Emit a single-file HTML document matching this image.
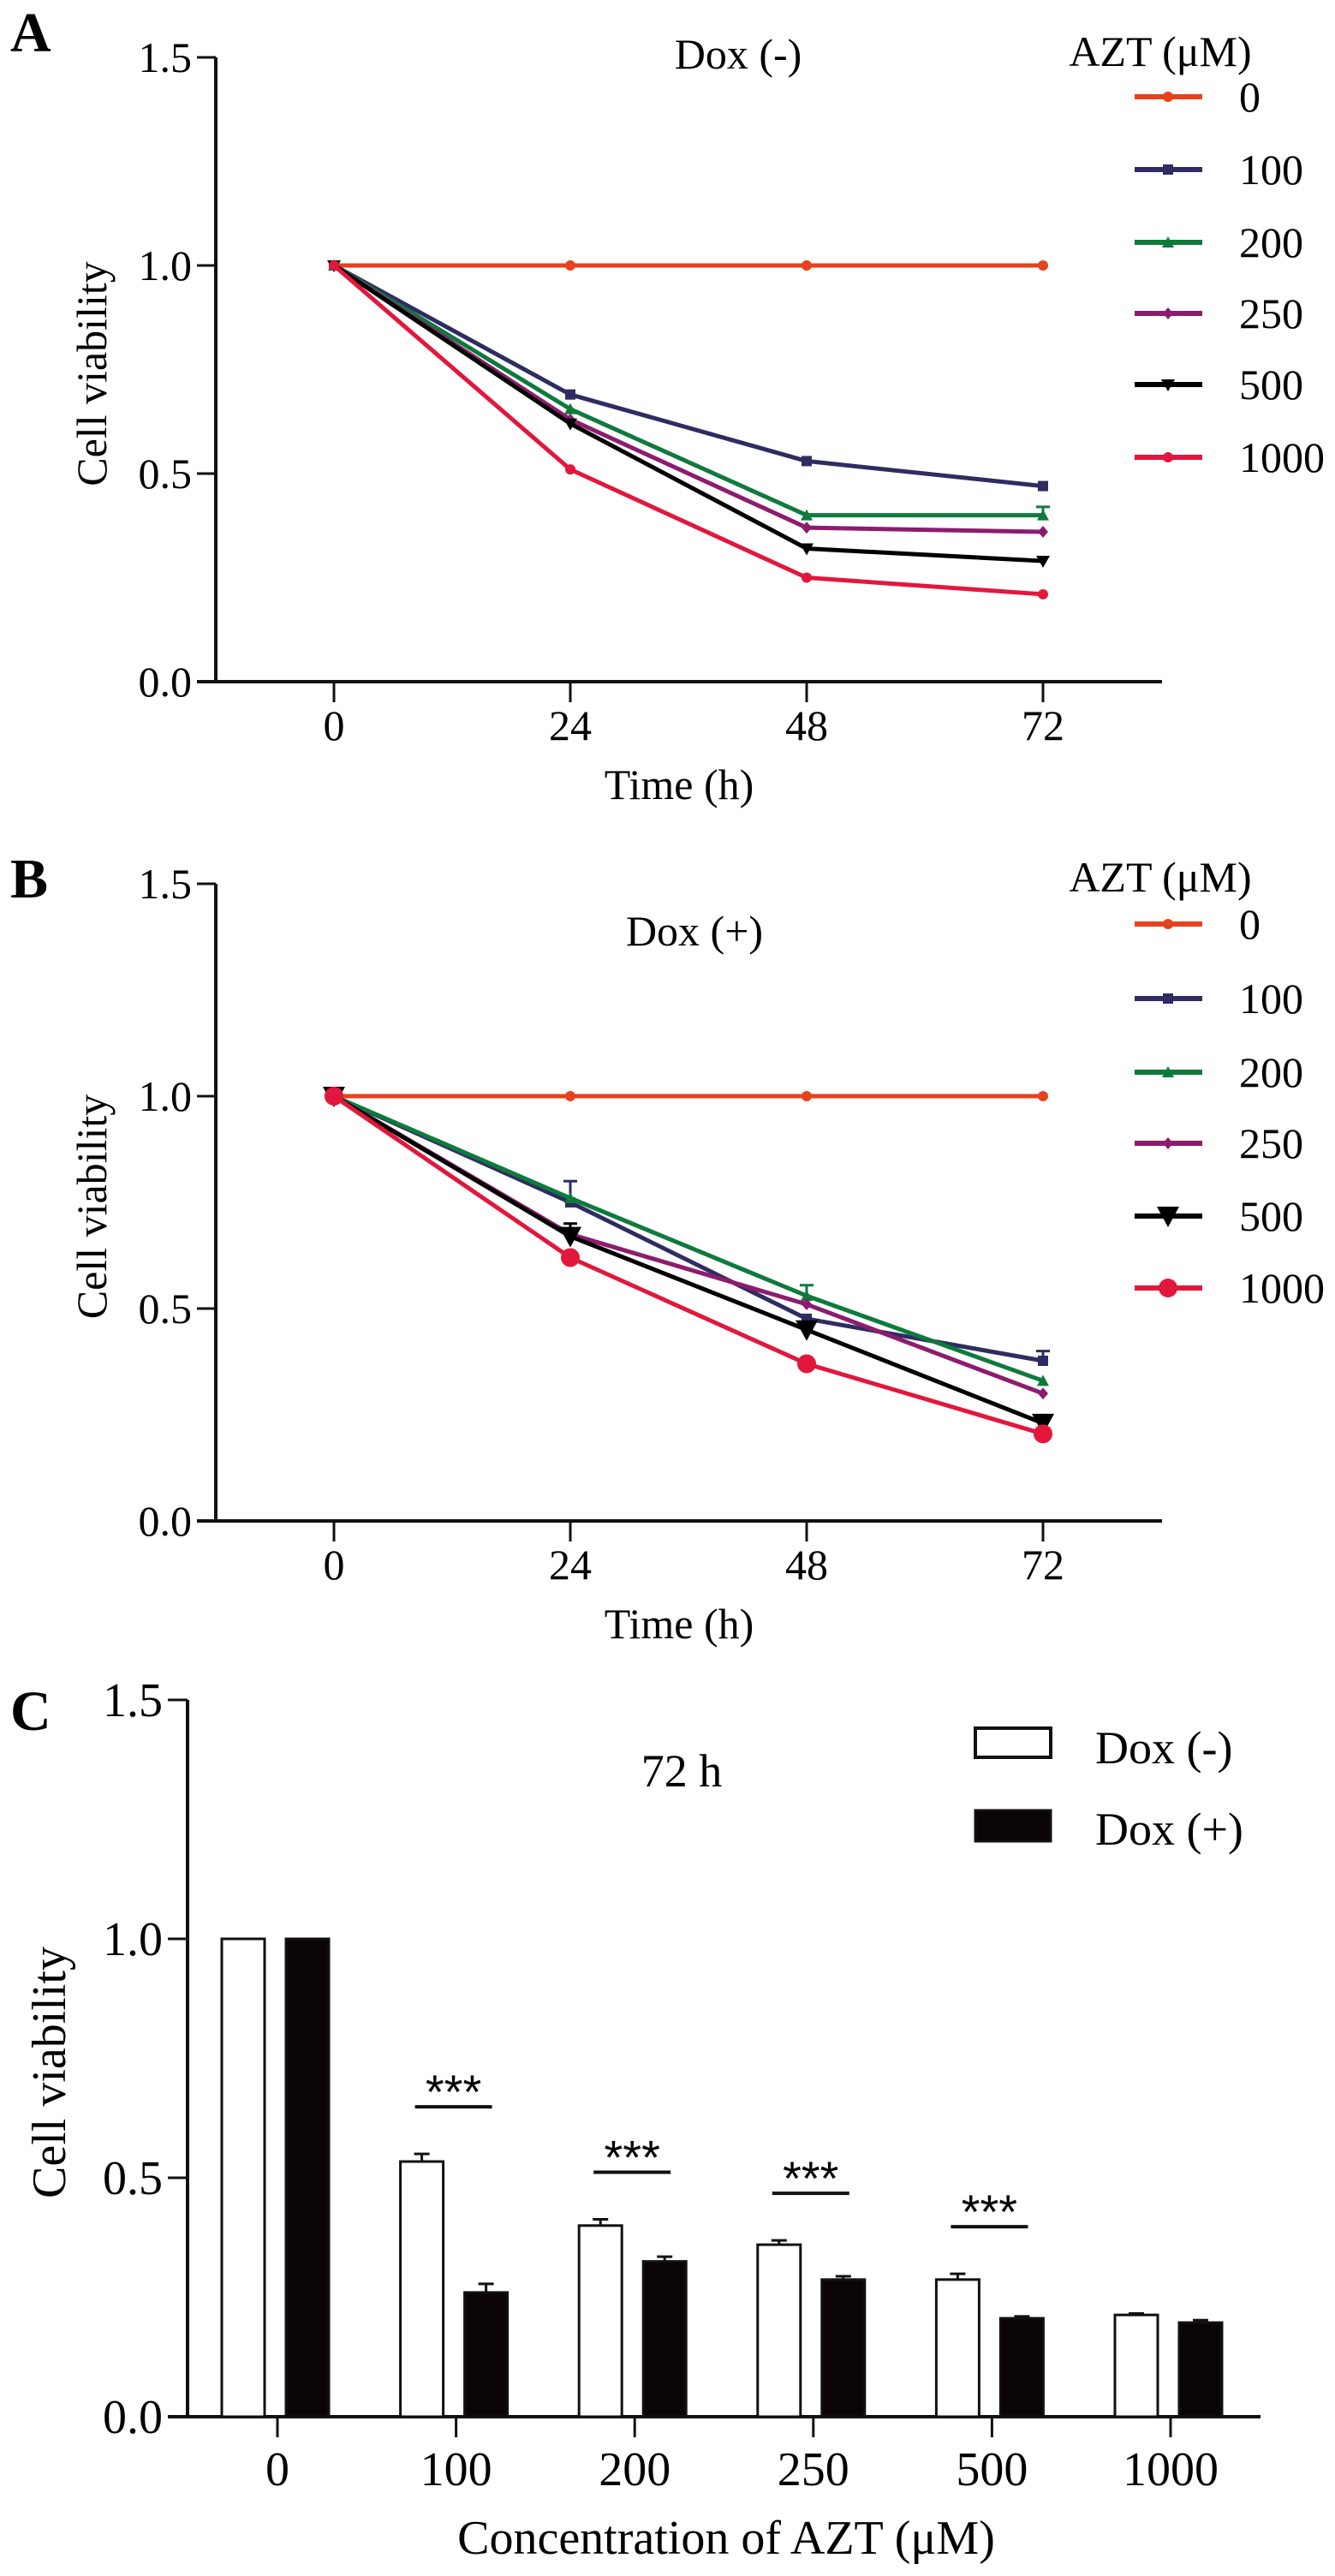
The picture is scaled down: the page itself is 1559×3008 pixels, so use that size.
<!DOCTYPE html>
<html><head><meta charset="utf-8"><style>
html,body{margin:0;padding:0;background:#fff;}
svg{display:block;font-family:"Liberation Serif",serif;}
</style></head><body>
<svg id="fig" width="1559" height="3008" viewBox="0 0 1559 3008" xmlns="http://www.w3.org/2000/svg"></svg>
<script>
const timeTicks = [0, 24, 48, 72];
const concLabels = ["0", "100", "200", "250", "500", "1000"];
const yTicks = [0.0, 0.5, 1.0, 1.5];
const seriesNames = ["0", "100", "200", "250", "500", "1000"];
const seriesColors = ["#e6421d", "#2f2c62", "#0e7a3c", "#8c1c6e", "#000000", "#e2173c"];
const dataA0 = [1, 1, 1, 1];
const dataA100 = [1, 0.69, 0.53, 0.47];
const dataA200 = [1, 0.655, 0.40, 0.40];
const dataA250 = [1, 0.63, 0.37, 0.36];
const dataA500 = [1, 0.62, 0.32, 0.29];
const dataA1000 = [1, 0.51, 0.25, 0.21];
const dataB0 = [1, 1, 1, 1];
const dataB100 = [1, 0.75, 0.476, 0.377];
const dataB200 = [1, 0.76, 0.53, 0.33];
const dataB250 = [1, 0.675, 0.51, 0.30];
const dataB500 = [1, 0.67, 0.45, 0.23];
const dataB1000 = [1, 0.62, 0.37, 0.205];
const barDoxMinus = [1.0, 0.534, 0.40, 0.36, 0.287, 0.213];
const barDoxPlus = [1.0, 0.26, 0.325, 0.287, 0.206, 0.197];
const errDoxMinus = [0, 0.016, 0.013, 0.009, 0.012, 0.003];
const errDoxPlus = [0, 0.018, 0.01, 0.007, 0.004, 0.005];
const sigGroups = [1, 2, 3, 4];

const NS = "http://www.w3.org/2000/svg";
const svg = document.getElementById("fig");
function mk(tag, attrs, parent, text){
  const e = document.createElementNS(NS, tag);
  for (const k in attrs) e.setAttribute(k, attrs[k]);
  if (text !== undefined) e.textContent = text;
  (parent || svg).appendChild(e);
  return e;
}
function marker(g, kind, cx, cy, col, big){
  const s = big ? 11 : 6;
  let m;
  if (kind === 0 || kind === 5) m = mk("circle", {cx: cx, cy: cy, r: s, fill: col}, g);
  else if (kind === 1) m = mk("rect", {x: cx - s, y: cy - s, width: 2*s, height: 2*s, fill: col}, g);
  else if (kind === 2) m = mk("polygon", {points: `${cx},${cy-s-1} ${cx-s-1},${cy+s} ${cx+s+1},${cy+s}`, fill: col}, g);
  else if (kind === 3) m = mk("polygon", {points: `${cx},${cy-s-1} ${cx+s},${cy} ${cx},${cy+s+1} ${cx-s},${cy}`, fill: col}, g);
  else m = mk("polygon", {points: `${cx-s-2},${cy-s} ${cx+s+2},${cy-s} ${cx},${cy+s+2}`, fill: col}, g);
  
  
}

function linePanel(cfg){
  const {letter, letterY, y0, y1, title, titleX, titleY, legTitleY, legRowY, series, big, errs} = cfg;
  const xAxisLeft = 230, yAxisX = 252, xEnd = 1357;
  const xs = t => 390 + (t - 0) * (1218 - 390) / 72;
  const ys = v => y0 - v * (y0 - y1);
  const g = mk("g", {});
  
  
  const L = mk("text", {x: 12, y: letterY, "font-size": 66, "font-weight": "bold"}, g, letter);
  
  
  const ax = mk("path", {d: `M${yAxisX},${ys(1.5)} V${y0} M${xAxisLeft},${y0} H${xEnd}`, stroke: "#111", "stroke-width": 4, fill: "none"}, g);
  
  
  yTicks.forEach(v => {
    mk("line", {x1: xAxisLeft, x2: yAxisX, y1: ys(v), y2: ys(v), stroke: "#111", "stroke-width": 3}, g);
    const t = mk("text", {x: 224, y: ys(v) + 17, "font-size": 50, "text-anchor": "end"}, g, v.toFixed(1));
    
    
  });
  timeTicks.forEach(tk => {
    mk("line", {x1: xs(tk), x2: xs(tk), y1: y0, y2: y0 + 24, stroke: "#111", "stroke-width": 3}, g);
    const t = mk("text", {x: xs(tk), y: y0 + 68, "font-size": 50, "text-anchor": "middle"}, g, String(tk));
    
    
  });
  const xt = mk("text", {x: 793, y: y0 + 137, "font-size": 50, "text-anchor": "middle"}, g, "Time (h)");
  
  
  const yt = mk("text", {x: 0, y: 0, "font-size": 50, "text-anchor": "middle", transform: `translate(124,${(ys(1.5)+y0)/2 + 5}) rotate(-90)`}, g, "Cell viability");
  
  
  const tt = mk("text", {x: titleX, y: titleY + 17, "font-size": 50, "text-anchor": "middle"}, g, title);
  
  
  (errs || []).forEach(e => {
    const [si, ti, top] = e;
    const x = xs(timeTicks[ti]);
    mk("path", {d: `M${x},${ys(series[si][ti])} V${ys(top)} M${x-8},${ys(top)} H${x+8}`, stroke: seriesColors[si], "stroke-width": 3, fill: "none"}, g);
  });
  series.forEach((arr, si) => {
    const pts = arr.map((v, i) => `${xs(timeTicks[i])},${ys(v)}`).join(" ");
    const pl = mk("polyline", {points: pts, fill: "none", stroke: seriesColors[si], "stroke-width": 5, "stroke-linejoin": "round"}, g);
    
    
    arr.forEach((v, i) => marker(g, si, xs(timeTicks[i]), ys(v), seriesColors[si], big && si >= 4));
  });
  const lt = mk("text", {x: 1355, y: legTitleY + 17, "font-size": 50, "text-anchor": "middle"}, g, "AZT (\u03bcM)");
  
  
  seriesNames.forEach((n, i) => {
    const y = legRowY[i];
    const lg = mk("g", {}, g);
    
    
    mk("line", {x1: 1325, x2: 1404, y1: y, y2: y, stroke: seriesColors[i], "stroke-width": 6}, lg);
    marker(lg, i, 1364, y, seriesColors[i], big && i >= 4);
    mk("text", {x: 1447, y: y + 17, "font-size": 50}, lg, n);
  });
}

linePanel({letter: "A", letterY: 60, y0: 796, y1: 310, title: "Dox (-)", titleX: 862, titleY: 63,
  legTitleY: 60, legRowY: [113, 198, 283, 366, 449, 534],
  series: [dataA0, dataA100, dataA200, dataA250, dataA500, dataA1000], big: false,
  errs: [[2, 3, 0.42]]});
linePanel({letter: "B", letterY: 1048, y0: 1776, y1: 1280, title: "Dox (+)", titleX: 811, titleY: 1087,
  legTitleY: 1024, legRowY: [1079, 1166, 1252, 1335, 1420, 1504],
  series: [dataB0, dataB100, dataB200, dataB250, dataB500, dataB1000], big: true,
  errs: [[1, 1, 0.80], [2, 2, 0.555], [1, 3, 0.40], [4, 1, 0.70]]});

(function(){
  const y0 = 2822, y1 = 2264, yAxisX = 219;
  const ys = v => y0 - v * (y0 - y1);
  const tickX = i => 324 + i * (1367 - 324) / 5;
  const g = mk("g", {});
  
  
  const L = mk("text", {x: 12, y: 2020, "font-size": 66, "font-weight": "bold"}, g, "C");
  
  
  const ax = mk("path", {d: `M${yAxisX},${ys(1.5)} V${y0} M196,${y0} H1472`, stroke: "#111", "stroke-width": 4, fill: "none"}, g);
  
  
  yTicks.forEach(v => {
    mk("line", {x1: 196, x2: yAxisX, y1: ys(v), y2: ys(v), stroke: "#111", "stroke-width": 3}, g);
    const t = mk("text", {x: 190, y: ys(v) + 19, "font-size": 56, "text-anchor": "end"}, g, v.toFixed(1));
    
    
  });
  concLabels.forEach((c, i) => {
    const x = tickX(i);
    const bw = 50;
    const hm = barDoxMinus[i], hp = barDoxPlus[i];
    if (errDoxMinus[i] > 0) mk("path", {d: `M${x-40},${ys(hm)} V${ys(hm+errDoxMinus[i])} M${x-49},${ys(hm+errDoxMinus[i])} H${x-31}`, stroke: "#111", "stroke-width": 3, fill: "none"}, g);
    if (errDoxPlus[i] > 0) mk("path", {d: `M${x+35},${ys(hp)} V${ys(hp+errDoxPlus[i])} M${x+26},${ys(hp+errDoxPlus[i])} H${x+44}`, stroke: "#111", "stroke-width": 3, fill: "none"}, g);
    const b1 = mk("rect", {x: x - 65, y: ys(hm), width: bw, height: y0 - ys(hm), fill: "#fff", stroke: "#111", "stroke-width": 3}, g);
    
    
    const b2 = mk("rect", {x: x + 10, y: ys(hp), width: bw, height: y0 - ys(hp), fill: "#0b0406", stroke: "#111", "stroke-width": 3}, g);
    
    
    mk("line", {x1: x, x2: x, y1: y0, y2: y0 + 24, stroke: "#111", "stroke-width": 3}, g);
    const t = mk("text", {x: x, y: y0 + 80, "font-size": 56, "text-anchor": "middle"}, g, c);
    
    
  });
  sigGroups.forEach(i => {
    const x = tickX(i);
    const ly = ys(barDoxMinus[i] + errDoxMinus[i]) - 55;
    const sl = mk("line", {x1: x - 48, x2: x + 42, y1: ly, y2: ly, stroke: "#111", "stroke-width": 4}, g);
    
    
    const st = mk("text", {x: x - 3, y: ly + 2, "font-size": 56, "text-anchor": "middle", "font-family": "Liberation Sans, sans-serif"}, g, "***");
    
    
  });
  const xt = mk("text", {x: 848, y: 2982, "font-size": 56, "text-anchor": "middle"}, g, "Concentration of AZT (\u03bcM)");
  
  
  const yt = mk("text", {x: 0, y: 0, "font-size": 56, "text-anchor": "middle", transform: `translate(76,2420) rotate(-90)`}, g, "Cell viability");
  
  
  const tt = mk("text", {x: 796, y: 2086, "font-size": 54, "text-anchor": "middle"}, g, "72 h");
  
  
  const l1 = mk("g", {}, g);
  
  
  mk("rect", {x: 1139, y: 2018, width: 88, height: 34, fill: "#fff", stroke: "#111", "stroke-width": 4}, l1);
  mk("text", {x: 1279, y: 2059, "font-size": 54}, l1, "Dox (-)");
  const l2 = mk("g", {}, g);
  
  
  mk("rect", {x: 1139, y: 2114, width: 88, height: 36, fill: "#0b0406", stroke: "#111", "stroke-width": 3}, l2);
  mk("text", {x: 1279, y: 2154, "font-size": 54}, l2, "Dox (+)");
})();
</script>
</body></html>
